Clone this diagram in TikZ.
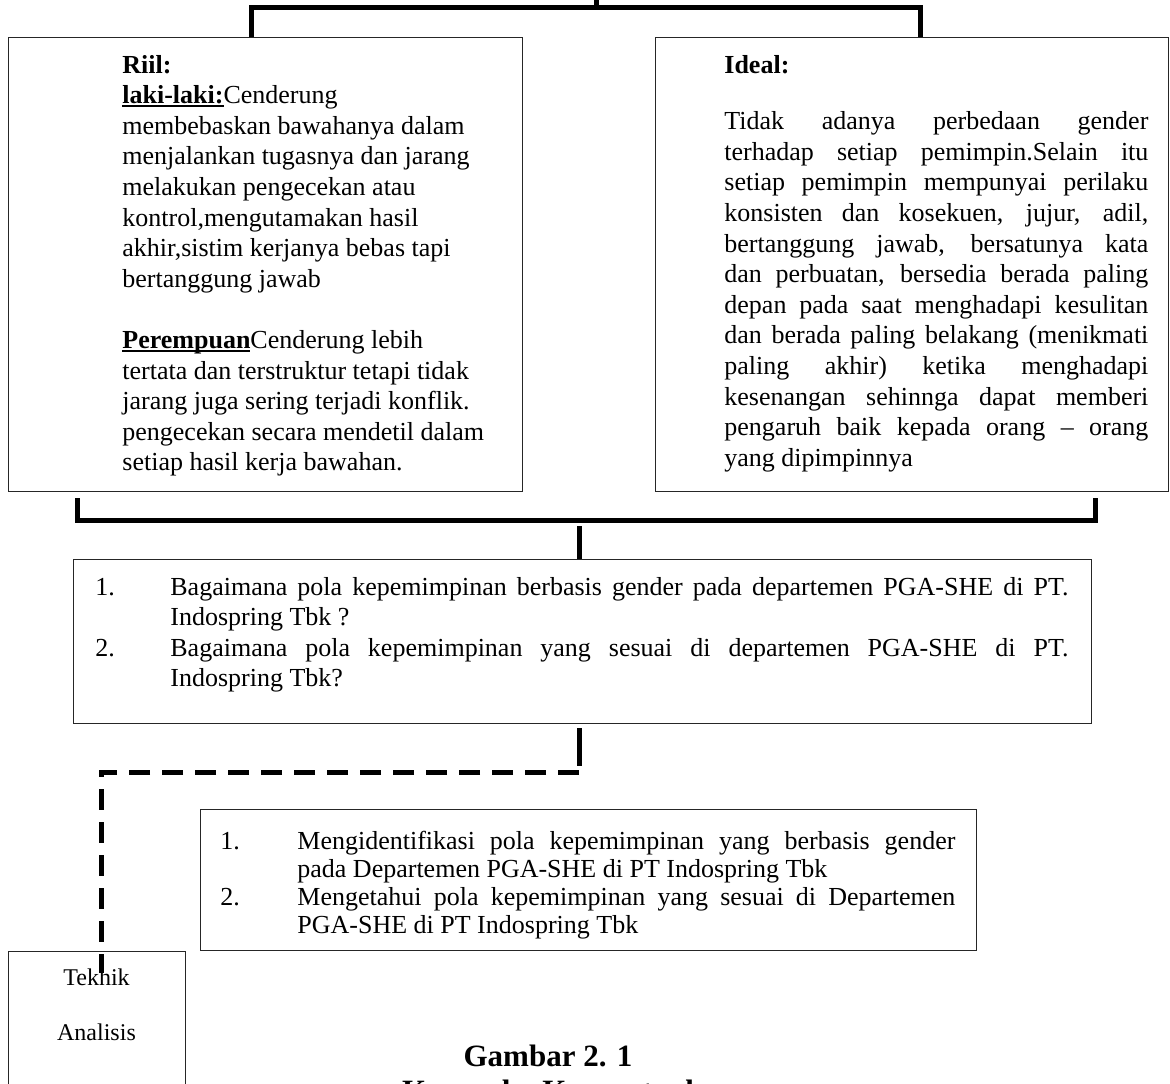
\documentclass[tikz,border=0pt]{standalone}
\usepackage{fontspec}
\setmainfont{Liberation Serif}
\usetikzlibrary{positioning}
\newcommand{\butir}[3]{\par\noindent\hangindent=#1\hangafter=1\makebox[#1][l]{#2}#3\par}
\newcommand{\isi}[2]{\parbox[t]{#1}{\hbadness=10000\relax #2}}
\newcommand{\bawah}[1]{\setbox0\hbox{#1}\rlap{\rule[-1.8pt]{\wd0}{1pt}}\box0}

\begin{document}
\begin{tikzpicture}
	[x=0.5pt,y=-0.5pt,
	kotak/.style={draw=black!85,line width=0.7pt,inner sep=0pt,anchor=north west},
	teks/.style={inner sep=0pt,anchor=base west,font=\fontsize{13}{15.3}\selectfont},
	garis/.style={line width=2.5pt},
	putus/.style={line width=2.5pt,dash pattern=on 10.5pt off 6pt}]
	\useasboundingbox (0,0) rectangle (1170,1083);
	\clip (0,0) rectangle (1170,1083);
	% kotak
	\node[kotak,minimum width=257pt,minimum height=227pt] (riil) at (8,37) {};
	\node[kotak,minimum width=256.5pt,minimum height=227pt] (ideal) at (655,37) {};
	\node[kotak,minimum width=509pt,minimum height=82pt] (masalah) at (73,559) {};
	\node[kotak,minimum width=388pt,minimum height=70.5pt] (tujuan) at (200,809) {};
	\node[kotak,minimum width=88.5pt,minimum height=80pt] (teknik) at (8,951) {};
	% isi
	\node[teks] (riilisi) at (122,73) {\isi{190pt}{\raggedright
		\textbf{Riil:}\\
		\textbf{\bawah{laki-laki:}}Cenderung\\
		membebaskan bawahanya dalam\\
		menjalankan tugasnya dan jarang\\
		melakukan pengecekan atau\\
		kontrol,mengutamakan hasil\\
		akhir,sistim kerjanya bebas tapi\\
		bertanggung jawab\\[15.3pt]
		\textbf{\bawah{Perempuan}}Cenderung lebih\\
		tertata dan terstruktur tetapi tidak\\
		jarang juga sering terjadi konflik.\\
		pengecekan secara mendetil dalam\\
		setiap hasil kerja bawahan.}};
	\node[teks] (idealisi) at (724,73) {\isi{212pt}{%
		\textbf{Ideal:}\par\vspace{13pt}
		Tidak adanya perbedaan gender\linebreak
		terhadap setiap pemimpin.Selain itu\linebreak
		setiap pemimpin mempunyai perilaku\linebreak
		konsisten dan kosekuen, jujur, adil,\linebreak
		bertanggung jawab, bersatunya kata\linebreak
		dan perbuatan, bersedia berada paling\linebreak
		depan pada saat menghadapi kesulitan\linebreak
		dan berada paling belakang (menikmati\linebreak
		paling akhir) ketika menghadapi\linebreak
		kesenangan sehinnga dapat memberi\linebreak
		pengaruh baik kepada orang -- orang\linebreak
		yang dipimpinnya\par}};
	\node[teks] (masalahisi) at (95,595) {\isi{486.5pt}{%
		\butir{37.5pt}{1.}{Bagaimana pola kepemimpinan berbasis gender pada departemen PGA-SHE di PT.\linebreak Indospring Tbk ?}
		\butir{37.5pt}{2.}{Bagaimana pola kepemimpinan yang sesuai di departemen PGA-SHE di PT.\linebreak Indospring Tbk?}}};
	\node[teks,font=\fontsize{13}{14}\selectfont] (tujuanisi) at (220,849) {\isi{367.5pt}{%
		\butir{38.5pt}{1.}{Mengidentifikasi pola kepemimpinan yang berbasis gender\linebreak pada Departemen PGA-SHE di PT Indospring Tbk}
		\butir{38.5pt}{2.}{Mengetahui pola kepemimpinan yang sesuai di Departemen\linebreak PGA-SHE di PT Indospring Tbk}}};
	\node[anchor=base,inner sep=0pt,font=\fontsize{12}{14}\selectfont] (tek1) at (96.5,985) {Tekhik};
	\node[anchor=base,inner sep=0pt,font=\fontsize{12}{14}\selectfont] (tek2) at (96.5,1040) {Analisis};
	\node[anchor=base,inner sep=0pt,font=\bfseries\fontsize{15.5}{18}\selectfont] (gambar) at (548,1066) {Gambar 2. 1};
	\node[anchor=base,inner sep=0pt,font=\bfseries\fontsize{15.5}{18}\selectfont] (judul) at (548,1101) {Kerangka Konseptual};
	% penghubung
	\coordinate (puncak) at (596,0);
	\coordinate (kiri) at (251,7);
	\coordinate (kanan) at (920,7);
	\draw[garis] (kiri |- riil.north) -- (kiri) -- (kanan) -- (kanan |- ideal.north);
	\draw[garis] (puncak) -- (puncak |- kiri);
	\coordinate (bawahkiri) at (77,520);
	\coordinate (bawahkanan) at (1095,520);
	\draw[garis] ([yshift=11pt]bawahkiri) -- (bawahkiri) -- (bawahkanan) -- ([yshift=11pt]bawahkanan);
	\coordinate (tengah) at (579,526);
	\draw[garis] (tengah) -- (tengah |- masalah.north);
	\coordinate (belok) at (579,772);
	\draw[garis,shorten <=2pt] (belok |- masalah.south) -- ([yshift=3pt]belok);
	\coordinate (ujung) at (101,973);
	\draw[putus] (belok) -| (ujung);
\end{tikzpicture}
\end{document}
